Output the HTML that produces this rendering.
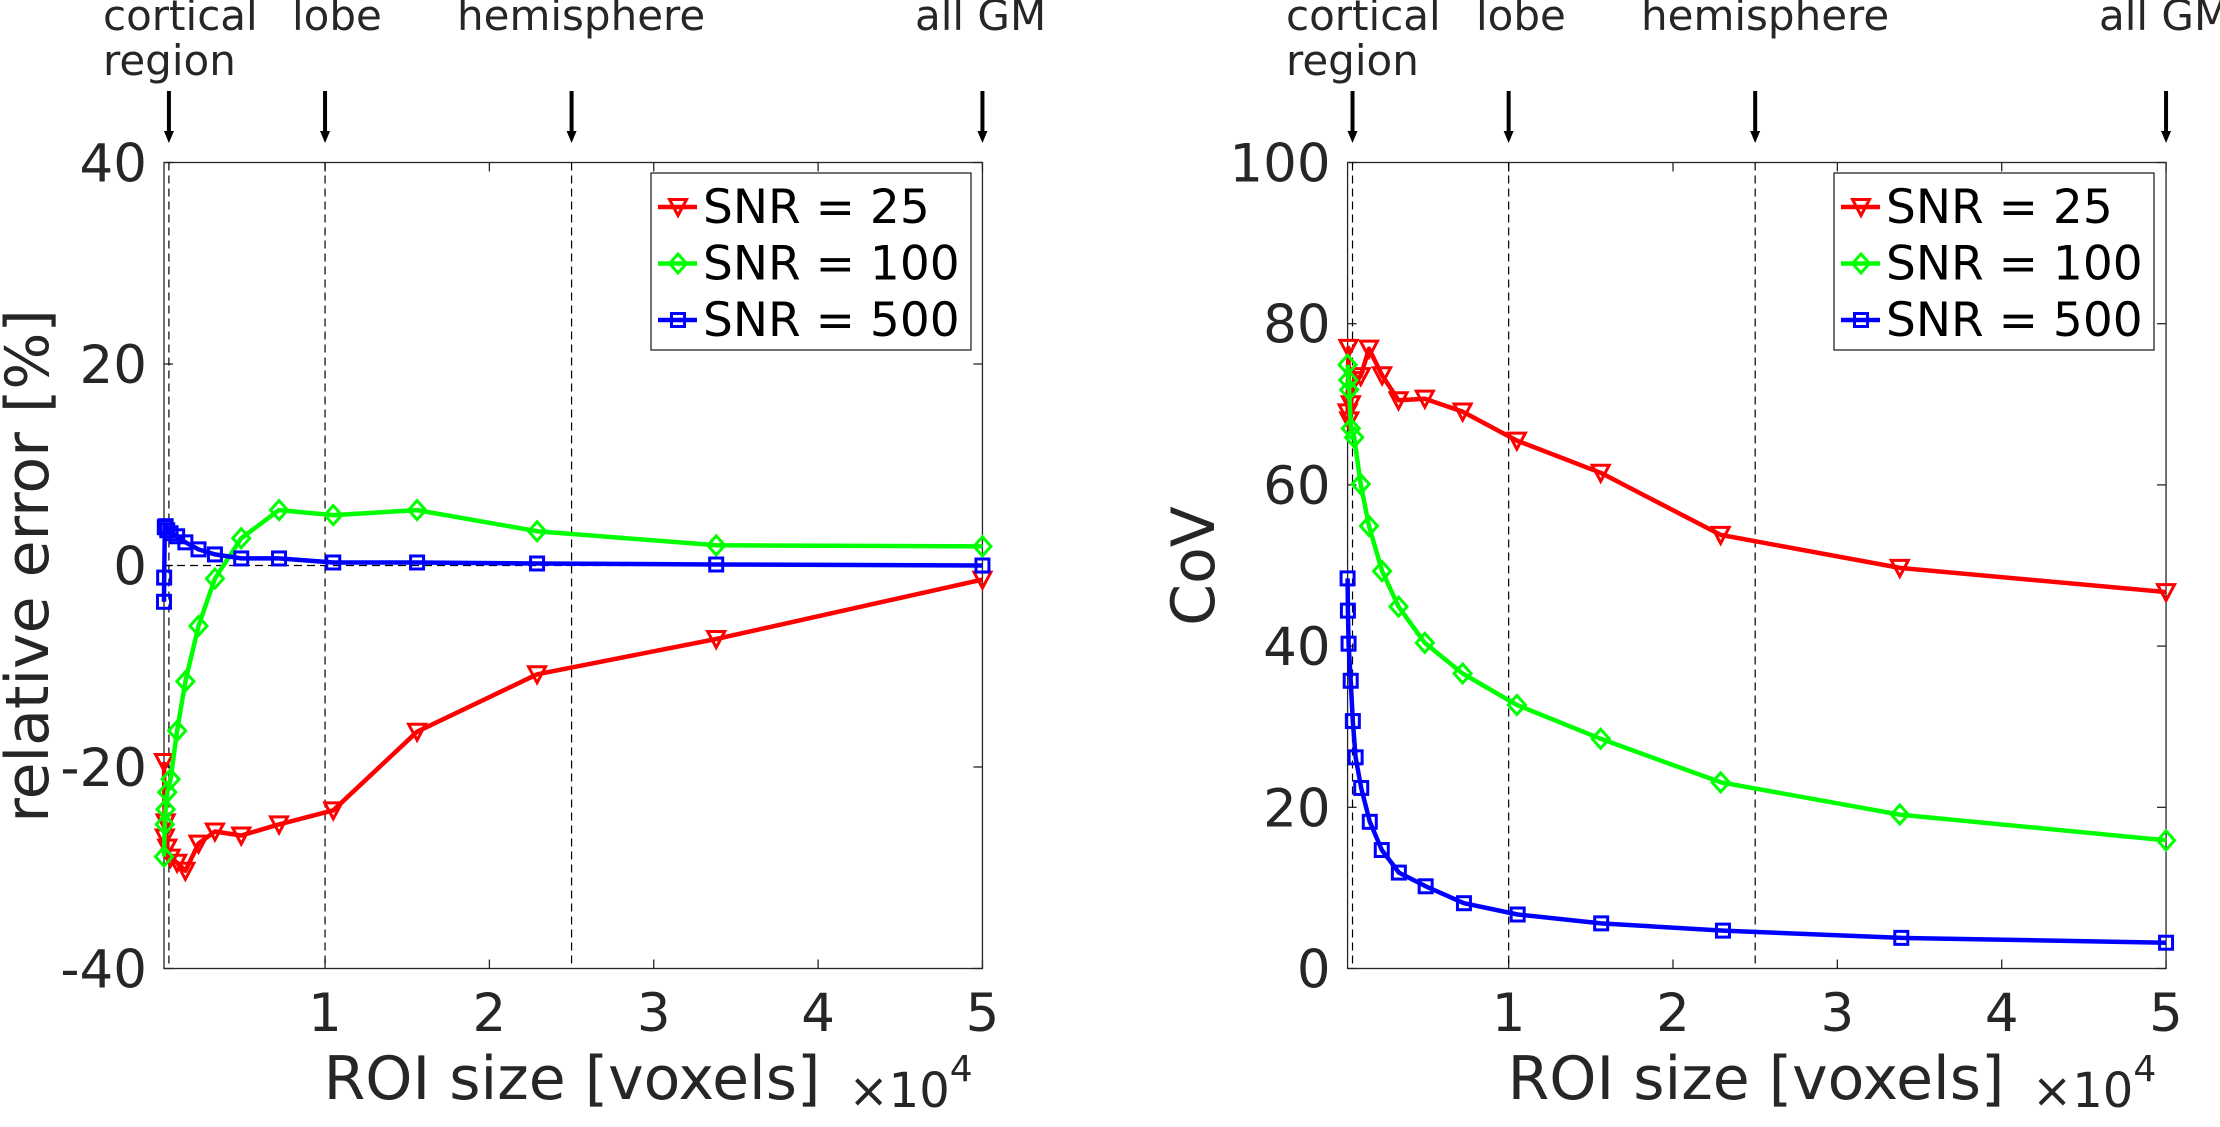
<!DOCTYPE html>
<html><head><meta charset="utf-8">
<style>
html,body{margin:0;padding:0;background:#fff;}
svg{display:block;font-family:"DejaVu Sans","Liberation Sans",sans-serif;}
</style></head>
<body>
<svg id="fig" width="2220" height="1127" viewBox="0 0 2220 1127" xmlns="http://www.w3.org/2000/svg"></svg>
<script>
// ---- data ----
const xVox = [200,250,300,400,600,1000,1500,2300,3300,4900,7200,10500,15600,22900,33800,50000];
const errSnr25  = [-19.5,-27,-25.5,-28,-29,-29.5,-30.3,-27.6,-26.4,-26.8,-25.7,-24.3,-16.5,-10.8,-7.3,-1.4];
const errSnr100 = [-28.9,-25.7,-24.2,-22.5,-21.2,-16.4,-11.5,-6,-1.3,2.7,5.5,5.0,5.5,3.4,2.0,1.9];
const xVoxBlueErr = [200,210,250,300,400,600,1000,1500,2300,3300,4900,7200,10500,15600,22900,33800,50000];
const errSnr500 = [-3.6,-1.2,3.8,3.9,3.5,3.2,2.9,2.3,1.6,1.1,0.7,0.7,0.3,0.3,0.2,0.1,0.0];
const covSnr25  = [69,77,68,70,73,73.5,76.9,73.6,70.5,70.7,69.1,65.5,61.5,53.8,49.7,46.7];
const covSnr100 = [74.9,73,71.8,67,65.9,60.1,54.9,49.3,44.9,40.4,36.6,32.7,28.5,23.1,19.1,15.9];
const xVoxBlueCov = [200,220,260,390,520,690,1030,1550,2280,3320,4950,7280,10550,15630,23040,33890,50000];
const covSnr500 = [48.4,44.4,40.3,35.7,30.7,26.2,22.4,18.2,14.7,11.9,10.2,8.1,6.7,5.6,4.7,3.8,3.2];
const xTicks = [1,2,3,4,5];
const errTicks = [-40,-20,0,20,40];
const covTicks = [0,20,40,60,80,100];
const markerVox = [500,10000,25000,50000];
const markerLabels = ["cortical|region","lobe","hemisphere","all GM"];
const legendLabels = ["SNR = 25","SNR = 100","SNR = 500"];

const NS="http://www.w3.org/2000/svg";
const svg=document.getElementById('fig');
const TXT='#262626';
function mk(tag,attrs,parent){const e=document.createElementNS(NS,tag);for(const k in attrs)e.setAttribute(k,attrs[k]);(parent||svg).appendChild(e);return e;}

function drawPanel(opt){
  const g=mk('g',{});
  
  
  const top=162.5,bot=968.5;
  const X=v=>opt.x0+v/1e4*164.35;
  const Y=v=>bot-(v-opt.ymin)/(opt.ymax-opt.ymin)*(bot-top);
  const L=X(200),R=X(50000);
  const box=mk('rect',{x:L,y:top,width:R-L,height:bot-top,fill:'none',stroke:TXT,'stroke-width':1.3},g);
  
  
  xTicks.forEach(t=>{
    const x=X(t*1e4);
    mk('line',{x1:x,x2:x,y1:bot,y2:bot-9,stroke:TXT,'stroke-width':1.3},g);
    mk('line',{x1:x,x2:x,y1:top,y2:top+9,stroke:TXT,'stroke-width':1.3},g);
    const tl=mk('text',{x:x,y:1031,'font-size':53,fill:TXT,'text-anchor':'middle'},g);
    tl.textContent=t;
    
    
  });
  opt.yTicks.forEach(t=>{
    const y=Y(t);
    mk('line',{x1:L,x2:L+9,y1:y,y2:y,stroke:TXT,'stroke-width':1.3},g);
    mk('line',{x1:R,x2:R-9,y1:y,y2:y,stroke:TXT,'stroke-width':1.3},g);
    const tl=mk('text',{x:L-17,y:y+19,'font-size':53,fill:TXT,'text-anchor':'end'},g);
    tl.textContent=t;
    
    
  });
  if(opt.zeroLine){
    const z=mk('line',{x1:L,x2:R,y1:Y(0),y2:Y(0),stroke:'#000','stroke-width':1.2,'stroke-dasharray':'8,5'},g);
    
    
  }
  markerVox.forEach((v,i)=>{
    const x=X(v);
    if(v<50000){
      const d=mk('line',{x1:x,x2:x,y1:top,y2:bot,stroke:'#000','stroke-width':1.2,'stroke-dasharray':'8,5'},g);
      
      
    }
    const a=mk('g',{},g);
    
    
    mk('line',{x1:x,x2:x,y1:91,y2:133,stroke:'#000','stroke-width':4},a);
    mk('polygon',{points:`${x-5},131 ${x+5},131 ${x},143`,fill:'#000'},a);
    const parts=markerLabels[i].split('|');
    const tx=opt.labelX[i];
    const t=mk('text',{x:tx,y:30,'font-size':42,fill:TXT},g);
    
    
    parts.forEach((p,j)=>{const ts=mk('tspan',{x:tx,y:30+j*45},t);ts.textContent=p;});
  });
  const colors=['#ff0000','#00ff00','#0000ff'];
  const shapes=['tri','dia','sq'];
  opt.series.forEach((s,si)=>{
    const sg=mk('g',{},g);
    
    
    const pts=s.x.map((v,i)=>X(v).toFixed(1)+','+Y(s.y[i]).toFixed(1)).join(' ');
    mk('polyline',{points:pts,fill:'none',stroke:colors[si],'stroke-width':4.5,'stroke-linejoin':'round'},sg);
    s.x.forEach((v,i)=>{const m=marker(shapes[si],X(v),Y(s.y[i]),colors[si],sg);
      
      });
  });
  const lx=opt.legX, ly=173;
  const lg=mk('g',{},g);
  
  
  mk('rect',{x:lx,y:ly,width:320,height:177,fill:'#fff',stroke:TXT,'stroke-width':1.3},lg);
  legendLabels.forEach((lab,i)=>{
    const yy=ly+50+i*56.5;
    const e=mk('g',{},lg);
    
    
    mk('line',{x1:lx+7,x2:lx+46,y1:yy-16,y2:yy-16,stroke:colors[i],'stroke-width':4.5},e);
    marker(shapes[i],lx+27,yy-16,colors[i],e);
    const t=mk('text',{x:lx+52,y:yy,'font-size':47,fill:'#000'},e);t.textContent=lab;
  });
  const xt=mk('text',{x:opt.xTitleX,y:1099,'font-size':60,fill:TXT,'text-anchor':'middle'},g);
  xt.textContent='ROI size [voxels]';
  
  
  const ex=mk('text',{x:R-134,y:1107,'font-size':48,fill:TXT},g);
  
  
  const t1=mk('tspan',{},ex);t1.textContent='×10';
  const t2=mk('tspan',{dy:-26,'font-size':36},ex);t2.textContent='4';
  const yt=mk('text',{x:0,y:0,'font-size':60,fill:TXT,'text-anchor':'middle',transform:`translate(${opt.yTitleX},566) rotate(-90)`},g);
  yt.textContent=opt.yTitle;
  
  
}
function marker(s,x,y,c,p){
  const r=8.5;
  if(s==='tri') return mk('polygon',{points:`${x-r},${y-r+1} ${x+r},${y-r+1} ${x},${y+r}`,fill:'none',stroke:c,'stroke-width':3},p);
  if(s==='dia') return mk('polygon',{points:`${x},${y-r-1} ${x+r},${y} ${x},${y+r+1} ${x-r},${y}`,fill:'none',stroke:c,'stroke-width':3},p);
  return mk('rect',{x:x-6.5,y:y-6.5,width:13,height:13,fill:'none',stroke:c,'stroke-width':3},p);
}
drawPanel({name:'relative-error-chart',x0:160.7,ymin:-40,ymax:40,yTicks:errTicks,zeroLine:true,
  labelX:[103,292,457,915],legX:651,xTitleX:572,yTitleX:48,yTitle:'relative error [%]',
  series:[{x:xVox,y:errSnr25},{x:xVox,y:errSnr100},{x:xVoxBlueErr,y:errSnr500}]});
drawPanel({name:'cov-chart',x0:1344.3,ymin:0,ymax:100,yTicks:covTicks,zeroLine:false,
  labelX:[1286,1476,1641,2099],legX:1834,xTitleX:1756,yTitleX:1214,yTitle:'CoV',
  series:[{x:xVox,y:covSnr25},{x:xVox,y:covSnr100},{x:xVoxBlueCov,y:covSnr500}]});
</script>
</body></html>
